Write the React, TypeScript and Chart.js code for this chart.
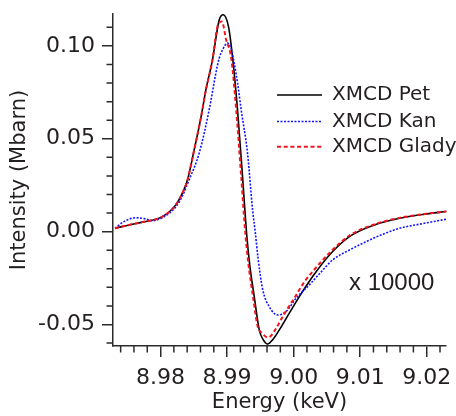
import React, { useEffect, useRef } from 'react';
import { Chart, registerables } from 'chart.js';

Chart.register(...registerables);

// ---- data (energy in keV, XMCD intensity in Mbarn) ----
const petEnergy = [
  8.97315, 8.97526, 8.97726, 8.98027, 8.98229, 8.98328, 8.98404, 8.98505, 8.98605, 8.98681,
  8.9878, 8.98881, 8.98941, 8.99021, 8.99081, 8.99157, 8.99232, 8.99295, 8.9934, 8.99408,
  8.99483, 8.99544, 8.99608, 8.99694, 8.99785, 8.99935, 9.00086, 9.00286, 9.00538, 9.00839,
  9.01215, 9.01592, 9.01968, 9.02295,
];
const petSignal = [
  0.0018, 0.0036, 0.0051, 0.0081, 0.0144, 0.0207, 0.0278, 0.044, 0.0611, 0.0763,
  0.0925, 0.114, 0.1168, 0.1104, 0.0942, 0.0654, 0.0296, -0.0018, -0.0179, -0.035,
  -0.0529, -0.0583, -0.0605, -0.0578, -0.0529, -0.0439, -0.035, -0.0242, -0.0126, -0.0027,
  0.0036, 0.0072, 0.0094, 0.0108,
];

const kanEnergy = [
  8.97315, 8.9745, 8.97627, 8.97777, 8.97877, 8.98027, 8.98229, 8.98328, 8.98429, 8.9858,
  8.9873, 8.98831, 8.98881, 8.98931, 8.99006, 8.99057, 8.99107, 8.99157, 8.99212, 8.99307,
  8.99383, 8.99423, 8.99465, 8.99533, 8.99634, 8.99759, 8.99886, 9.00036, 9.00236, 9.00413,
  9.00587, 9.00839, 9.0109, 9.0134, 9.01592, 9.01968, 9.02295,
];
const kanSignal = [
  0.0018, 0.0054, 0.0075, 0.0068, 0.0059, 0.0075, 0.0133, 0.0192, 0.0278, 0.0422,
  0.0655, 0.0853, 0.0934, 0.0979, 0.1015, 0.0989, 0.0907, 0.0801, 0.0655, 0.0422,
  0.0117, -0.0002, -0.0142, -0.0309, -0.0404, -0.0449, -0.0431, -0.0359, -0.0287, -0.0217,
  -0.0152, -0.0099, -0.0054, -0.0014, 0.0018, 0.0045, 0.0067,
];

const gladyEnergy = [
  8.97315, 8.97526, 8.97726, 8.98027, 8.98229, 8.98328, 8.98404, 8.98505, 8.98605, 8.98681,
  8.9878, 8.98855, 8.98922, 8.98986, 8.99062, 8.99137, 8.99212, 8.99276, 8.99322, 8.99389,
  8.99458, 8.99529, 8.99608, 8.99664, 8.99739, 8.9986, 9.00011, 9.00161, 9.00312, 9.00538,
  9.00839, 9.01215, 9.01592, 9.01968, 9.02295,
];
const gladySignal = [
  0.0018, 0.0036, 0.0051, 0.0081, 0.0144, 0.0207, 0.0278, 0.044, 0.0611, 0.0763,
  0.0925, 0.1104, 0.1131, 0.1032, 0.0935, 0.0654, 0.0296, -0.0018, -0.0179, -0.035,
  -0.0508, -0.0548, -0.0569, -0.0559, -0.0519, -0.0443, -0.0357, -0.0271, -0.0204, -0.0115,
  -0.0021, 0.0039, 0.0074, 0.0095, 0.0109,
];

const seriesLabels = ['XMCD Pet', 'XMCD Kan', 'XMCD Glady'];
const xTitle = 'Energy (keV)';
const yTitle = 'Intensity (Mbarn)';
const scaleNote = 'x 10000';

const energyRange = [8.97285, 9.0229];
const intensityRange = [-0.0616, 0.1172];
const majorEnergyStep = 0.01;
const majorIntensityStep = 0.05;

const FONT = "'DejaVu Sans', sans-serif";
const NOTE_FONT = "'Liberation Sans', Arial, sans-serif";
const INK = '#231f20';
const AXIS = '#2b2b2b';

const toPoints = (xs: number[], ys: number[]) => xs.map((x, i) => ({ x, y: ys[i] }));

// minor tick marks between the labelled ones (0.002 keV and 0.01 Mbarn)
const minorTicks = {
  id: 'minorTicks',
  afterDraw(chart: any) {
    const { ctx, scales } = chart;
    const x = scales.x;
    const y = scales.y;
    ctx.save();
    ctx.strokeStyle = AXIS;
    ctx.lineWidth = 1.5;
    ctx.beginPath();
    for (let k = Math.ceil(x.min * 500 - 1e-6); k <= Math.floor(x.max * 500 + 1e-6); k++) {
      if (k % 5 === 0) continue;
      const px = x.getPixelForValue(k / 500);
      ctx.moveTo(px, x.top);
      ctx.lineTo(px, x.top + 6.5);
    }
    for (let k = Math.ceil(y.min * 100 - 1e-6); k <= Math.floor(y.max * 100 + 1e-6); k++) {
      if (k % 5 === 0) continue;
      const py = y.getPixelForValue(k / 100);
      ctx.moveTo(y.right, py);
      ctx.lineTo(y.right - 6.5, py);
    }
    ctx.stroke();
    ctx.restore();
  },
};

// legend box and the scaling note inside the plot
const plotNotes = {
  id: 'plotNotes',
  afterDatasetsDraw(chart: any) {
    const { ctx } = chart;
    const rows = [95, 121.5, 146.7];
    ctx.save();
    chart.data.datasets.forEach((ds: any, i: number) => {
      const yy = rows[i];
      ctx.beginPath();
      ctx.strokeStyle = ds.borderColor;
      ctx.lineWidth = ds.borderWidth;
      ctx.setLineDash(ds.borderDash || []);
      ctx.moveTo(277, yy);
      ctx.lineTo(322, yy);
      ctx.stroke();
      ctx.setLineDash([]);
      ctx.fillStyle = INK;
      ctx.font = `20px ${FONT}`;
      ctx.textBaseline = 'middle';
      ctx.textAlign = 'left';
      ctx.fillText(ds.label, 332, yy);
    });
    ctx.font = `24px ${NOTE_FONT}`;
    ctx.fillStyle = INK;
    ctx.textBaseline = 'middle';
    ctx.textAlign = 'left';
    ctx.fillText(scaleNote, 349, 283.5);
    ctx.restore();
  },
};

export default function App() {
  const canvasRef = useRef<HTMLCanvasElement | null>(null);

  useEffect(() => {
    if (!canvasRef.current) return;
    const chart = new Chart(canvasRef.current, {
      type: 'line',
      data: {
        datasets: [
          {
            label: seriesLabels[0],
            data: toPoints(petEnergy, petSignal),
            borderColor: '#000000',
            borderWidth: 1.6,
            order: 3,
          },
          {
            label: seriesLabels[1],
            data: toPoints(kanEnergy, kanSignal),
            borderColor: 'rgb(20,20,255)',
            borderWidth: 1.6,
            borderDash: [2, 1.5],
            order: 2,
          },
          {
            label: seriesLabels[2],
            data: toPoints(gladyEnergy, gladySignal),
            borderColor: 'rgb(245,20,30)',
            borderWidth: 2,
            borderDash: [4, 2.7],
            order: 1,
          },
        ] as any,
      },
      options: {
        responsive: false,
        animation: false,
        events: [],
        clip: false as any,
        layout: { padding: { top: 14, right: 10, left: 0, bottom: 0 } },
        elements: {
          point: { radius: 0 },
          line: { cubicInterpolationMode: 'monotone', fill: false },
        },
        plugins: {
          legend: { display: false },
          tooltip: { enabled: false },
        },
        scales: {
          x: {
            type: 'linear',
            min: energyRange[0],
            max: energyRange[1],
            afterFit: (s: any) => {
              s.height = 70;
              s.paddingLeft = 0;
              s.paddingRight = 0;
            },
            border: { display: true, color: AXIS, width: 1.5 },
            grid: {
              drawOnChartArea: false,
              drawTicks: true,
              tickLength: 11,
              color: AXIS,
              lineWidth: 1.5,
            },
            ticks: {
              stepSize: majorEnergyStep,
              includeBounds: false,
              maxRotation: 0,
              autoSkip: false,
              padding: 8,
              color: INK,
              font: { family: FONT, size: 22 },
              callback: (v: any) => Number(v).toFixed(2),
            },
            title: {
              display: true,
              text: xTitle,
              color: INK,
              font: { family: FONT, size: 21 },
              padding: { top: 0, bottom: 1 },
            },
          },
          y: {
            type: 'linear',
            min: intensityRange[0],
            max: intensityRange[1],
            afterFit: (s: any) => {
              s.width = 113;
              s.paddingTop = 0;
              s.paddingBottom = 0;
            },
            border: { display: true, color: AXIS, width: 1.5 },
            grid: {
              drawOnChartArea: false,
              drawTicks: true,
              tickLength: 11,
              color: AXIS,
              lineWidth: 1.5,
            },
            ticks: {
              stepSize: majorIntensityStep,
              includeBounds: false,
              autoSkip: false,
              padding: 7,
              color: INK,
              font: { family: FONT, size: 22 },
              callback: (v: any) => Number(v).toFixed(2),
            },
            title: {
              display: true,
              text: yTitle,
              color: INK,
              font: { family: FONT, size: 21 },
              padding: { top: 7, bottom: 0 },
            },
          },
        },
      } as any,
      plugins: [minorTicks, plotNotes],
    });
    return () => chart.destroy();
  }, []);

  return (
    <div style={{ position: 'absolute', left: 0, top: 0, width: 456, height: 416, background: '#fff' }}>
      <canvas ref={canvasRef} width={456} height={416} style={{ display: 'block' }} />
    </div>
  );
}
